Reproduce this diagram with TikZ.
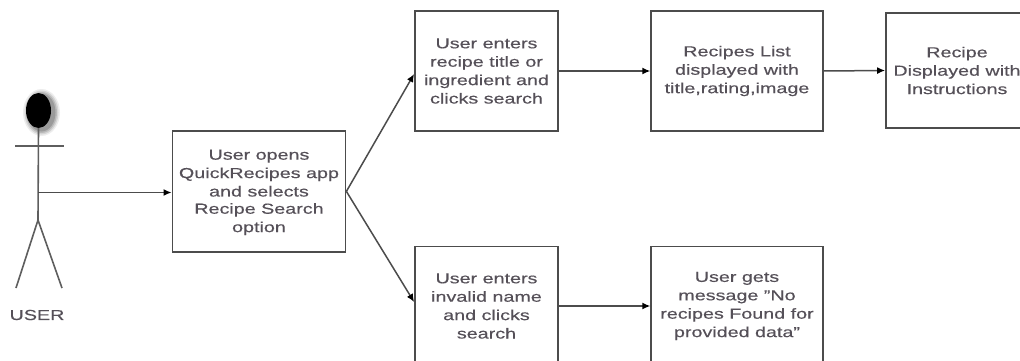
\documentclass[tikz,border=0pt]{standalone}
\usepackage{fontspec}
\setmainfont[FakeStretch=1.36,FakeBold=0.35]{Liberation Sans}
\usetikzlibrary{arrows.meta,shapes.geometric}
\definecolor{linegray}{HTML}{4C4C4C}
\definecolor{textgray}{HTML}{555058}
\tikzset{
  labeltext/.style={text=textgray,align=center,inner sep=0pt,font=\fontsize{14.5}{18.4}\selectfont},
  stepbox/.style={draw=linegray,line width=1.8pt,rectangle,inner sep=0pt,labeltext},
  conn/.style={draw=linegray,line width=1.5pt,-{Latex[length=8pt,width=7pt,black]}},
  figureline/.style={draw=linegray!90,line width=1.6pt}
}
\begin{document}
\begin{tikzpicture}[x=1pt,y=-1pt]
\useasboundingbox (0,0) rectangle (1020,361);
\fill[white] (0,0) rectangle (1020,361);
% actor shadow and head
\foreach \o/\a in {6/0.07,4.5/0.10,3/0.13,1.5/0.16}{
  \fill[black,opacity=\a] (41.5,112.5) ellipse [x radius=12.5+\o,y radius=17.5+\o];
}
\node[ellipse,fill=black,draw=none,minimum width=25pt,minimum height=35pt,inner sep=0pt] (head) at (38.5,110.5) {};
\coordinate (hip) at (38,220);
\coordinate (armL) at (15,145.7);
\coordinate (armR) at (64,145.7);
\coordinate (legL) at (16,288);
\coordinate (legR) at (62,288);
\coordinate (hand) at (38,192.5);
\draw[figureline] (head.south) -- (hip);
\draw[figureline] (armL) -- (armR);
\draw[figureline] (legL) -- (hip) -- (legR);
\node[labeltext] (user) at (37,315) {USER};
% boxes
\node[stepbox,minimum width=173pt,minimum height=121.5pt] (open) at (259,191.4) {};
\node[labeltext,anchor=north] (openA) at (259,149.5) {User opens\\QuickRecipes app\\and selects};
\node[labeltext,fill=white,anchor=north,minimum width=130pt,inner ysep=6.5pt] (openB) at (259,196.5) {Recipe Search\\option};
\node[stepbox,minimum width=143pt,minimum height=120pt] (enter) at (486.5,71) {User enters\\recipe title or\\ingredient and\\clicks search};
\node[stepbox,minimum width=171.5pt,minimum height=120pt] (list) at (737,71) {Recipes List\\displayed with\\title,rating,image};
\node[stepbox,minimum width=142pt,minimum height=115pt] (recipe) at (957,70.5) {Recipe\\Displayed with\\Instructions};
\node[stepbox,minimum width=143pt,minimum height=119pt] (invalid) at (486.5,306) {User enters\\invalid name\\and clicks\\search};
\node[stepbox,minimum width=171.5pt,minimum height=119pt] (message) at (737,306) {User gets\\message \symbol{34}No\\recipes Found for\\provided data\symbol{34}};
% connectors
\coordinate (enterIn) at (enter.west |- 0,74);
\coordinate (invalidIn) at (invalid.west |- 0,302);
\draw[conn] (hand) -- (open.west |- hand);
\draw[conn] (open.east) -- (enterIn);
\draw[conn] (open.east) -- (invalidIn);
\draw[conn] (enter.east) -- (list.west);
\draw[conn] (list.east) -- (recipe.west);
\draw[conn] (invalid.east) -- (message.west);
\end{tikzpicture}
\end{document}
